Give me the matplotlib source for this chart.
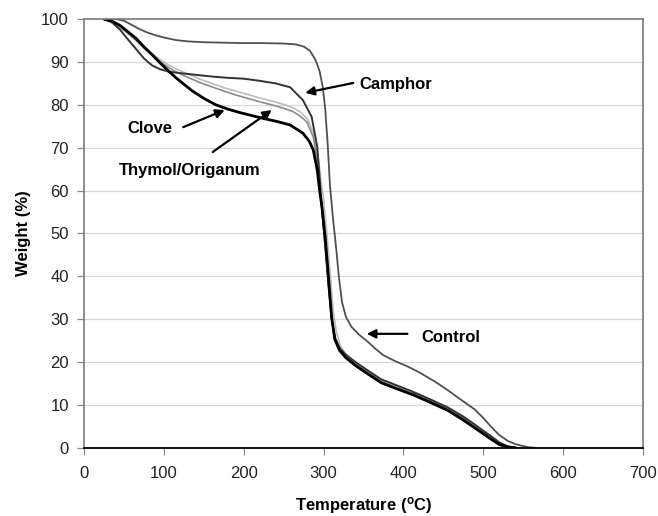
import numpy as np
import matplotlib
matplotlib.use('Agg')
import matplotlib.pyplot as plt

plt.rcParams['font.family'] = ['Liberation Sans', 'DejaVu Sans']

# TGA curves: temperature (C) and weight (%)
control_T = [25, 40, 50, 60, 70, 80, 90, 100, 115, 130, 150, 175, 200, 225, 250, 265, 275, 283, 290, 295,
             299, 302, 305, 308, 312, 316, 319, 323, 328, 335, 345, 355, 365, 375, 390, 405, 420, 440, 456,
             470, 489, 500, 510, 520, 531, 540, 548, 557, 566]
control_W = [100, 100, 99.6, 98.6, 97.6, 96.8, 96.2, 95.7, 95.1, 94.8, 94.6, 94.5, 94.4, 94.4, 94.3, 94.1,
             93.6, 92.6, 90.4, 87.8, 84, 79, 71, 61, 53, 46, 40, 34, 30.5, 28.2, 26.3, 24.8, 23.1, 21.6,
             20.2, 19, 17.6, 15.4, 13.4, 11.5, 9, 7, 4.9, 3, 1.6, 0.9, 0.5, 0.15, 0]

camphor_T = [25, 35, 45, 55, 65, 75, 85, 95, 105, 115, 130, 145, 160, 180, 200, 220, 240, 258, 274, 285,
             292, 297, 302, 306, 310, 314, 320, 328, 340, 355, 372, 390, 413, 435, 456, 475, 489, 500, 510,
             520, 530, 542]
camphor_W = [100, 99.2, 97.5, 95.2, 93, 90.8, 89.2, 88.3, 87.8, 87.5, 87.2, 86.9, 86.6, 86.3, 86.1, 85.6,
             85, 84.1, 81.1, 77.2, 70.2, 57.8, 47, 38, 30, 25.8, 23.3, 21.7, 20, 18.1, 16, 14.7, 13, 11.2,
             9.4, 7.3, 5.5, 4, 2.7, 1.3, 0.4, 0]

clove_T = [25, 35, 45, 55, 65, 75, 85, 95, 105, 115, 125, 135, 150, 165, 180, 195, 210, 225, 240, 258,
           274, 282, 287, 292, 295, 298, 302, 306, 310, 314, 320, 328, 340, 355, 372, 390, 413, 435, 456,
           475, 489, 500, 510, 520, 530, 540]
clove_W = [100, 99.5, 98.5, 97, 95.5, 93.5, 91.7, 89.8, 88, 86.3, 84.8, 83.3, 81.5, 80, 79, 78.2, 77.5,
           76.8, 76.2, 75.3, 73.4, 71.5, 69.5, 64.8, 60, 56, 49, 40, 30.5, 25.3, 22.7, 21, 19.2, 17.3,
           15.2, 13.9, 12.3, 10.5, 8.7, 6.5, 4.7, 3.3, 2, 0.8, 0.2, 0]

thymol_T = [25, 35, 45, 55, 65, 75, 85, 95, 105, 115, 130, 145, 160, 175, 190, 205, 220, 235, 250, 262,
            272, 280, 287, 293, 297, 300, 304, 308, 312, 316, 321, 328, 340, 355, 372, 390, 413, 435, 456,
            475, 489, 500, 510, 520, 530, 545]
thymol_W = [100, 99.3, 98.2, 96.8, 95.2, 93.5, 92, 90.6, 89.4, 88.4, 87.2, 86, 85, 84, 83.2, 82.4, 81.6,
            80.9, 80.1, 79.3, 78.2, 76.6, 73.5, 68, 62, 57.8, 50, 41, 32, 27, 23.8, 21.8, 20, 18, 15.9,
            14.6, 12.9, 11.1, 9.3, 7.2, 5.3, 3.9, 2.6, 1.2, 0.4, 0]

origanum_T = [25, 35, 45, 55, 65, 75, 85, 95, 105, 115, 130, 145, 160, 175, 190, 205, 220, 235, 250, 262,
              272, 279, 287, 293, 296, 299, 303, 307, 311, 315, 321, 328, 340, 355, 372, 390, 413, 435, 456,
              475, 489, 500, 510, 520, 530, 540]
origanum_W = [100, 99.3, 98.1, 96.6, 95, 93.2, 91.6, 90.1, 88.8, 87.7, 86.4, 85.2, 84.2, 83.2, 82.3, 81.5,
              80.7, 80, 79.2, 78.4, 77.2, 76, 72.5, 66, 59, 53, 45, 36, 29, 25.3, 22.9, 21.3, 19.5, 17.6,
              15.5, 14.2, 12.6, 10.8, 9, 6.9, 5, 3.6, 2.3, 1, 0.3, 0]

x_ticks = [0, 100, 200, 300, 400, 500, 600, 700]
y_ticks = [0, 10, 20, 30, 40, 50, 60, 70, 80, 90, 100]

fig = plt.figure(figsize=(6.58, 5.16), dpi=100)
ax = fig.add_axes([0.128, 0.132, 0.849, 0.831])

for yv in y_ticks[1:-1]:
    ax.axhline(yv, color='#d9d9d9', lw=0.9, zorder=0)

ax.plot(thymol_T, thymol_W, color='#bdbdbd', lw=1.2)
ax.plot(origanum_T, origanum_W, color='#8a8a8a', lw=1.2)
ax.plot(camphor_T, camphor_W, color='#333333', lw=1.4)
ax.plot(control_T, control_W, color='#505050', lw=1.3)
ax.plot(clove_T, clove_W, color='black', lw=2.0)

ax.set_xlim(0, 700)
ax.set_ylim(0, 100)
ax.set_xticks(x_ticks)
ax.set_yticks(y_ticks)
ax.tick_params(axis='both', labelsize=12, colors='#8a8a8a', labelcolor='#222222', length=5, width=0.9)
ax.tick_params(axis='x', pad=8)
ax.tick_params(axis='y', pad=6)
for s in ['left', 'top', 'right']:
    ax.spines[s].set_color('#7a7a7a')
    ax.spines[s].set_linewidth(1.2)
ax.spines['bottom'].set_color('black')
ax.spines['bottom'].set_linewidth(1.3)

ax.set_xlabel('Temperature ($\\mathregular{^{o}}$C)', fontsize=12, fontweight='bold', labelpad=10)
ax.set_ylabel('Weight (%)', fontsize=12, fontweight='bold', labelpad=7)

arrow = dict(arrowstyle='-|>', color='black', lw=1.6, mutation_scale=13, shrinkA=0, shrinkB=0)
bold = dict(fontsize=12, fontweight='bold', va='center')
ax.annotate('', xy=(277, 82.8), xytext=(337, 85.1), arrowprops=arrow)
ax.text(345, 84.8, 'Camphor', ha='left', **bold)
ax.annotate('', xy=(354, 26.6), xytext=(405, 26.6), arrowprops=arrow)
ax.text(423, 25.8, 'Control', ha='left', **bold)
ax.annotate('', xy=(176, 78.8), xytext=(124, 74.8), arrowprops=arrow)
ax.text(54, 74.6, 'Clove', ha='left', **bold)
ax.annotate('', xy=(235, 78.8), xytext=(161, 69), arrowprops=arrow)
ax.text(43, 64.8, 'Thymol/Origanum', ha='left', **bold)

fig.savefig('out.png', dpi=100)
